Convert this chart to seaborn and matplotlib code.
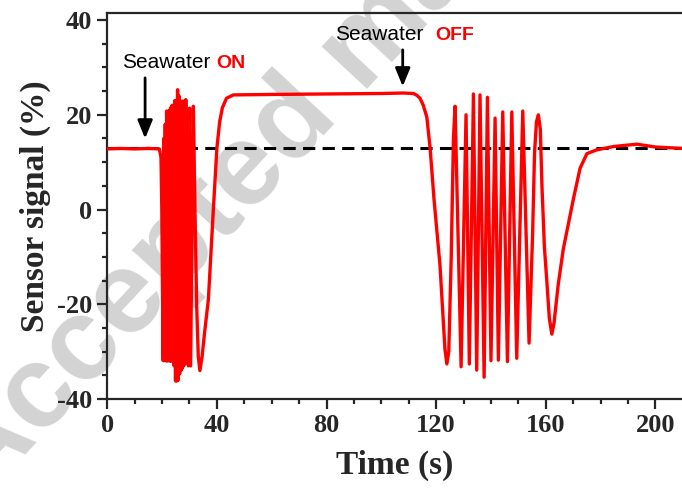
import numpy as np
import matplotlib
matplotlib.use("Agg")
import matplotlib.pyplot as plt
import seaborn as sns
from matplotlib.ticker import MultipleLocator

# sensor trace, split by phase
base_t = [0, 5, 10, 15, 19.0, 19.6, 19.9, 20.2]
base_v = [12.8, 12.9, 12.8, 12.9, 12.8, 11.0, 0.0, -20.0]

on_t = [20.4, 20.65, 20.9, 21.15, 21.4, 21.65, 21.9, 22.15, 22.4, 22.65, 22.9,
        23.15, 23.4, 23.65, 23.9, 24.15, 24.4, 24.65, 24.9, 25.15, 25.4, 25.65,
        25.9, 26.15, 26.4, 26.65, 26.9, 27.15, 27.4, 27.65, 27.9, 28.15, 28.4,
        28.65, 28.9, 29.2, 29.6, 30.0, 30.4, 31.4]
on_v = [-31.9, 15.0, -31.9, 18.0, -31.9, 20.8, -32.0, 20.5, -31.9, 21.0, -32.0,
        21.5, -32.0, 22.0, -31.9, 21.5, -33.0, 23.0, -36.2, 22.5, -36.2, 25.3,
        -36.0, 24.0, -34.7, 23.0, -34.0, 22.0, -33.5, 22.9, -33.0, 21.5, -32.5,
        23.2, -31.9, 20.0, -33.0, 21.4, -33.0, 21.8]

rec_t = [32.0, 32.6, 33.2, 33.8, 34.6, 35.5, 36.9, 38.7, 40.0, 41.0, 42.0, 43.5]
rec_v = [0.0, -20.0, -31.0, -34.0, -31.0, -26.0, -18.9, 0.0, 13.0, 18.5, 21.5, 23.5]

plat_t = [46, 60, 80, 100, 108, 111.7, 113.0, 114.1, 115.3, 116.6, 117.8,
          119.2, 121.4, 123.2]
plat_v = [24.2, 24.3, 24.4, 24.5, 24.6, 24.5, 24.1, 23.5, 22.0, 19.5, 12.9,
          2.3, -11.8, -29.4]

off_t = [123.9, 124.6, 125.5, 126.3, 126.9, 129.1, 130.9, 132.1, 133.6, 134.8,
         136.0, 137.5, 138.7, 140.0, 141.5, 142.7, 144.3, 146.0, 147.6, 149.4,
         151.6, 153.9, 155.2, 155.9, 156.6, 157.3, 158.0, 158.6, 159.5, 160.4,
         161.3, 162.2]
off_v = [-32.6, -30.0, -10.0, 15.0, 21.8, -33.2, 20.0, -32.6, 24.4, -33.9,
         24.2, -35.4, 23.7, -31.9, 19.3, -31.8, 20.6, -32.1, 20.6, -31.4,
         20.8, -28.2, -5.0, 12.0, 18.5, 20.0, 17.0, 5.0, -8.0, -15.3,
         -23.0, -26.3]

end_t = [163.0, 164.5, 166.4, 170.1, 172.5, 175.0, 178.6, 184.7, 193.2, 200, 210]
end_v = [-24.0, -16.0, -8.3, 2.3, 8.7, 11.8, 12.6, 13.3, 13.8, 13.2, 12.9]

baseline_level = 12.9

time_s = np.array(base_t + on_t + rec_t + plat_t + off_t + end_t)
signal = np.array(base_v + on_v + rec_v + plat_v + off_v + end_v)

sns.set_style("ticks")
plt.rcParams["font.family"] = ["Liberation Serif", "DejaVu Serif"]
plt.rcParams["axes.unicode_minus"] = False

fig = plt.figure(figsize=(6.82, 4.88), dpi=100)
ax = fig.add_axes([0.1573, 0.1824, 0.8427, 0.791])
ax.set_facecolor("none")

# faint watermark behind everything
fig.text(-0.0255, -0.0287, "Accepted manuscript", rotation=47, rotation_mode="anchor",
         ha="left", va="baseline", fontsize=84, fontweight="bold",
         family="Liberation Sans", color="#d3d3d3", zorder=-5)

ax.axhline(baseline_level, color="black", lw=2.2, dashes=(4, 2.4), zorder=2)
sns.lineplot(x=time_s, y=signal, sort=False, estimator=None, color="#ff0000",
             lw=2.4, ax=ax, zorder=3, solid_joinstyle="round")

ax.set_xlim(0, 209.7)
ax.set_ylim(-40, 41.5)
ax.xaxis.set_major_locator(MultipleLocator(40))
ax.xaxis.set_minor_locator(MultipleLocator(10))
ax.yaxis.set_major_locator(MultipleLocator(20))
ax.yaxis.set_minor_locator(MultipleLocator(5))

for s in ["left", "bottom", "top"]:
    ax.spines[s].set_linewidth(1.6)
ax.spines["right"].set_visible(False)
ax.tick_params(which="major", direction="out", length=7, width=1.6,
               labelsize=19, pad=4)
ax.tick_params(which="minor", direction="out", length=3.5, width=1.6)
ax.tick_params(top=False, right=False, which="both")
for lab in ax.get_xticklabels() + ax.get_yticklabels():
    lab.set_fontweight("bold")

ax.set_xlabel("Time (s)", fontsize=24, fontweight="bold", labelpad=9)
ax.set_ylabel("Sensor signal (%)", fontsize=24, fontweight="bold", labelpad=4)

# annotations
ax.text(5.3, 29.9, "Seawater", family="Liberation Sans", fontsize=15, color="black")
ax.text(39.9, 29.9, "ON", family="Liberation Sans", fontsize=14,
        fontweight="bold", color="#ff0000")
ax.annotate("", xy=(13.8, 14.4), xytext=(13.8, 28.4),
            arrowprops=dict(arrowstyle="-|>,head_length=1.1,head_width=0.45",
                            color="black", lw=2))
ax.text(83.1, 35.9, "Seawater", family="Liberation Sans", fontsize=15, color="black")
ax.text(119.6, 35.9, "OFF", family="Liberation Sans", fontsize=14,
        fontweight="bold", color="#ff0000")
ax.annotate("", xy=(107.8, 25.4), xytext=(107.8, 34.3),
            arrowprops=dict(arrowstyle="-|>,head_length=1.1,head_width=0.45",
                            color="black", lw=2))

fig.savefig("out.png", dpi=100)
